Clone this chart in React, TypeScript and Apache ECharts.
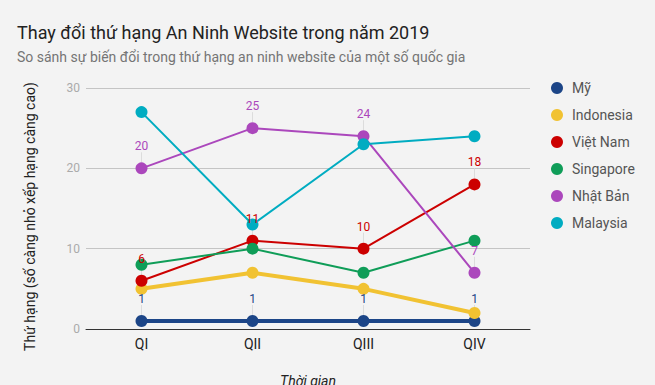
import React, { useEffect, useRef } from "react";
import * as echarts from "echarts";

const categories = ["QI", "QII", "QIII", "QIV"];
const seriesNames = ["Mỹ", "Indonesia", "Việt Nam", "Singapore", "Nhật Bản", "Malaysia"];
const my = [1, 1, 1, 1];
const indonesia = [5, 7, 5, 2];
const vietnam = [6, 11, 10, 18];
const singapore = [8, 10, 7, 11];
const nhatban = [20, 25, 24, 7];
const malaysia = [27, 13, 23, 24];
const colors = ["#1c4587", "#f1c232", "#cc0000", "#0f9d58", "#ab47bc", "#00acc1"];
const widths = [4, 4, 2, 2, 2, 2];
const showLabels = [true, false, true, false, true, false];
const yTicks = [0, 10, 20, 30];

export default function App() {
  const ref = useRef<HTMLDivElement>(null);
  useEffect(() => {
    if (!ref.current) return;
    const chart = echarts.init(ref.current, null, { renderer: "svg" });
    const data = [my, indonesia, vietnam, singapore, nhatban, malaysia];
    const mainSeries = seriesNames.map((name, i) => ({
      name,
      type: "line",
      data: data[i],
      symbol: "circle",
      symbolSize: 12,
      color: colors[i],
      lineStyle: { width: widths[i], color: colors[i] },
      itemStyle: { color: colors[i] },
      label: { show: false },
      emphasis: { disabled: true },
      z: 2,
    }));
    const labelSeries: any[] = [];
    seriesNames.forEach((name, i) => {
      if (!showLabels[i]) return;
      labelSeries.push({
        name: name + " (nhãn)",
        type: "custom",
        z: 1,
        silent: true,
        data: data[i].map((v, j) => [j, v]),
        encode: { x: 0, y: 1 },
        renderItem: (params: any, api: any) => {
          const p = api.coord([api.value(0), api.value(1)]);
          return {
            type: "line",
            shape: { x1: p[0], y1: p[1] - 6, x2: p[0], y2: p[1] - 16 },
            style: { stroke: "#dcdcdc", lineWidth: 1 },
          };
        },
      });
      labelSeries.push({
        name: name + " (số)",
        type: "line",
        data: data[i],
        symbol: "circle",
        symbolSize: 12,
        silent: true,
        z: 5,
        lineStyle: { opacity: 0 },
        itemStyle: { color: "rgba(0,0,0,0)" },
        label: {
          show: true,
          position: "top",
          distance: 10,
          fontSize: 12,
          color: colors[i],
        },
        emphasis: { disabled: true },
      });
    });
    chart.setOption({
      animation: false,
      backgroundColor: "#f3f3f3",
      textStyle: { fontFamily: "Roboto" },
      title: {
        text: "Thay đổi thứ hạng An Ninh Website trong năm 2019",
        subtext: "So sánh sự biến đổi trong thứ hạng an ninh website của một số quốc gia",
        left: 17,
        top: 23,
        padding: 0,
        itemGap: 9,
        textStyle: { fontSize: 18, fontWeight: "normal", color: "#222", fontFamily: "Roboto" },
        subtextStyle: { fontSize: 14, color: "#757575", fontFamily: "Roboto" },
      },
      legend: {
        orient: "vertical",
        left: 551,
        top: 81,
        padding: 0,
        icon: "circle",
        itemWidth: 12,
        itemHeight: 12,
        itemGap: 13,
        data: seriesNames,
        textStyle: { fontSize: 14, lineHeight: 14, color: "#555", fontFamily: "Roboto", padding: [0, 0, 0, 4] },
      },
      grid: { left: 86, right: 125, top: 88, bottom: 56, containLabel: false, outerBoundsMode: "none" },
      xAxis: {
        type: "category",
        data: categories,
        boundaryGap: true,
        name: "Thời gian",
        nameLocation: "middle",
        nameGap: 45,
        nameTextStyle: { fontStyle: "italic", fontSize: 14, color: "#222" },
        axisLine: { lineStyle: { color: "#333", width: 1 } },
        axisTick: { show: false },
        axisLabel: { fontSize: 14, color: "#222", margin: 8 },
      },
      yAxis: {
        type: "value",
        min: yTicks[0],
        max: yTicks[yTicks.length - 1],
        interval: 10,
        name: "Thứ hạng (số càng nhỏ xếp hạng càng cao)",
        nameLocation: "middle",
        nameGap: 49,
        nameTextStyle: { fontSize: 14, color: "#222", padding: [0, 16, 0, 0] },
        axisLine: { show: false },
        axisTick: { show: false },
        axisLabel: { fontSize: 12, color: "#aaa", margin: 6 },
        splitLine: { lineStyle: { color: "#c4c4c4", width: 1 } },
      },
      series: [...mainSeries, ...labelSeries],
    });
    return () => chart.dispose();
  }, []);
  return (
    <div
      ref={ref}
      style={{ position: "fixed", left: 0, top: 0, width: 655, height: 385 }}
    />
  );
}
